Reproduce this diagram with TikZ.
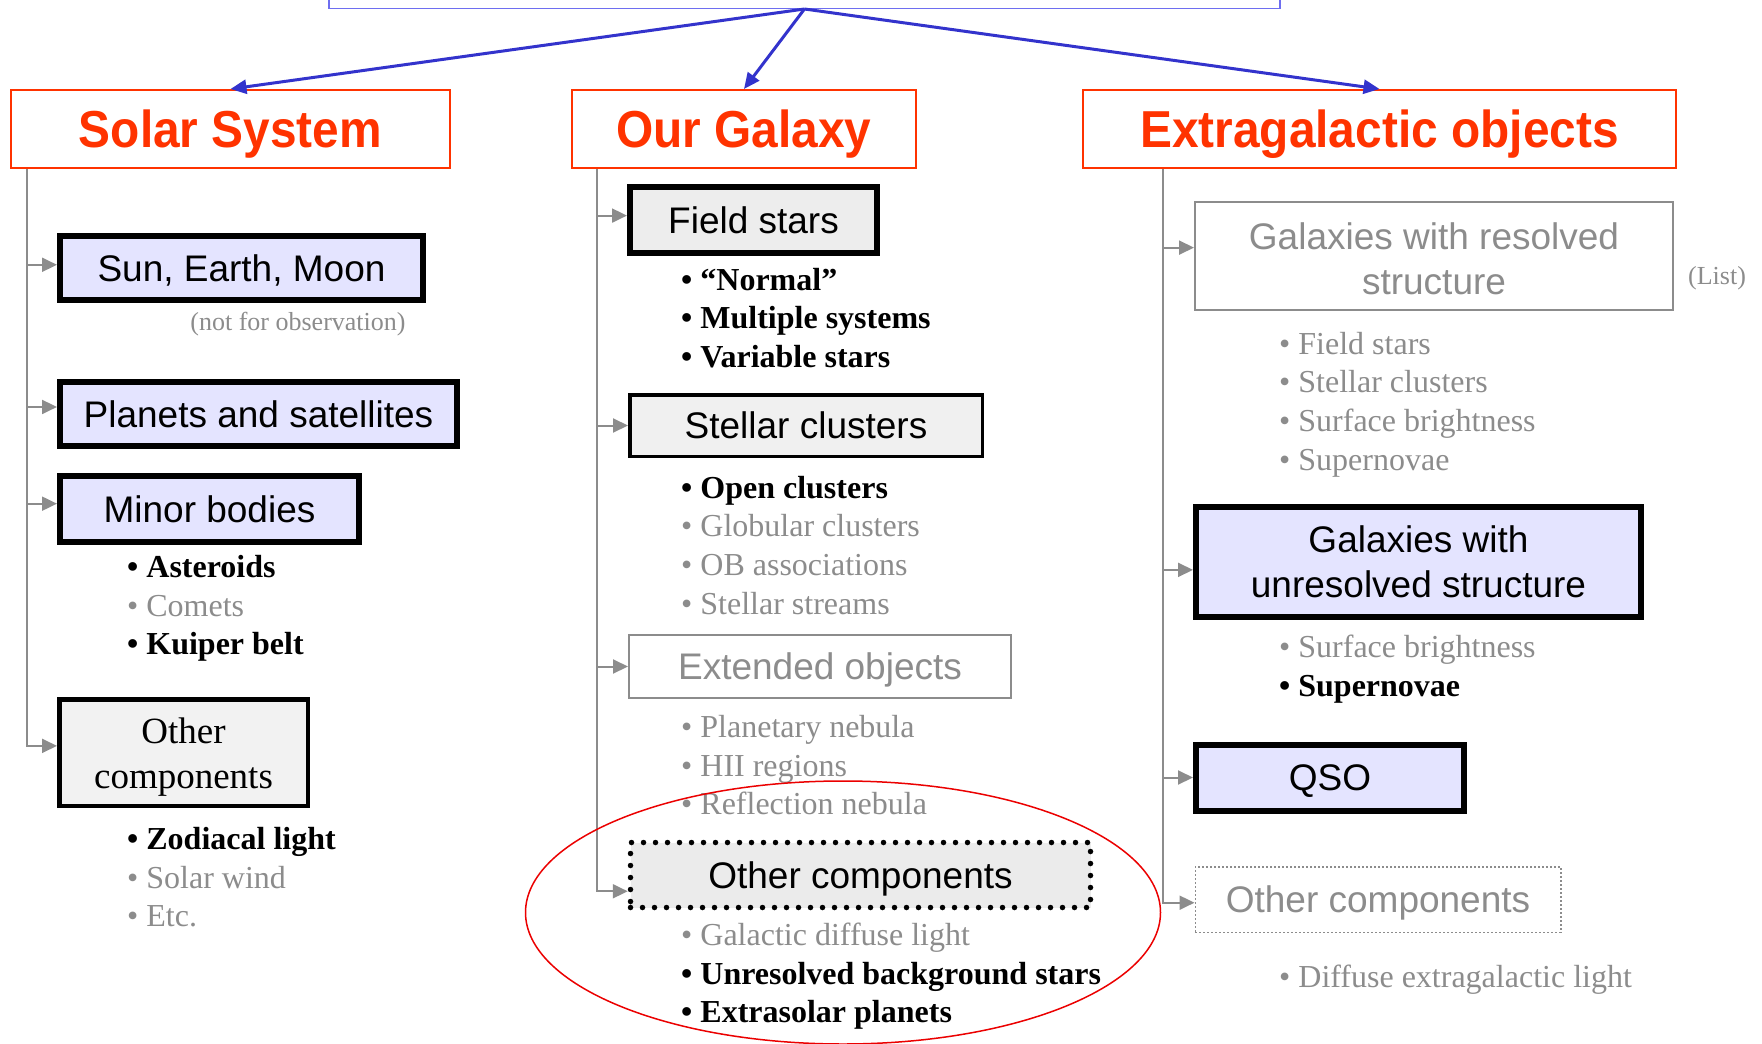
\documentclass[tikz,border=0pt]{standalone}
\usepackage{fontspec}
\setmainfont{Liberation Serif}
\setsansfont{Liberation Sans}
\newfontfamily\headfont[FakeStretch=0.92]{Liberation Sans}
\usetikzlibrary{arrows.meta}
\definecolor{hdrred}{RGB}{255,51,0}
\definecolor{rootblue}{RGB}{110,110,240}
\definecolor{arrowblue}{RGB}{51,51,204}
\definecolor{lav}{RGB}{228,228,255}
\definecolor{faint}{RGB}{140,140,140}
\definecolor{ringred}{RGB}{235,0,0}
\tikzstyle{rootbox} = [rectangle, draw=rootblue, line width=1.5pt]
\tikzstyle{heading} = [rectangle, draw=hdrred, line width=2pt, text=hdrred, minimum height=78pt, inner sep=0pt, text height=45pt, text depth=8pt, font=\headfont\bfseries\fontsize{52}{60}\selectfont]
\tikzstyle{keybox} = [rectangle, draw=black, line width=6pt, fill=lav, inner sep=0pt, align=center, font=\sffamily\fontsize{37}{45}\selectfont]
\tikzstyle{oneline} = [text height=33pt, text depth=6.5pt]
\tikzstyle{greybox} = [keybox, fill=black!7]
\tikzstyle{faintbox} = [keybox, draw=faint, line width=2pt, fill=white, text=faint]
\tikzstyle{dotbox} = [keybox, line width=5.5pt, fill=black!8, line cap=round, dash pattern=on 0pt off 12pt]
\tikzstyle{faintdot} = [faintbox, line width=1.5pt, dash pattern=on 1.5pt off 2.5pt]
\tikzstyle{list} = [inner sep=0pt, anchor=west, font=\fontsize{32}{38.7}\selectfont]
\tikzstyle{note} = [inner sep=0pt, text=faint, font=\fontsize{26}{30}\selectfont]
\tikzstyle{branch} = [draw=arrowblue, line width=3pt, -{Triangle[length=16pt,width=14pt]}]
\tikzstyle{conn} = [draw=faint, line width=2pt, -{Triangle[length=15pt,width=14pt]}]
\newcommand{\hi}[1]{\textbf{• #1}}
\newcommand{\lo}[1]{\textcolor{faint}{• #1}}

\begin{document}
\begin{tikzpicture}[x=1pt,y=-1pt]
        \useasboundingbox (0,0) rectangle (1762,1044);
        \clip (0,0) rectangle (1762,1044);

        \node (root) [rootbox, minimum width=951pt, minimum height=60pt, anchor=south] at (804.5,9) {};

        \node (ss) [heading, minimum width=439pt] at (230.5,129) {Solar System};
        \node (og) [heading, minimum width=344pt] at (744,129) {Our Galaxy};
        \node (eg) [heading, minimum width=593pt] at (1379.5,129) {Extragalactic objects};

        \draw[branch] (root.south) -- (ss.north);
        \draw[branch] (root.south) -- (og.north);
        \draw[branch] (root.south) -- (eg.north);

        % Solar System
        \node (sun) [keybox, oneline, minimum width=363pt, minimum height=64pt] at (241.5,268) {Sun, Earth, Moon};
        \node (sunN) [note] at (298,324.5) {(not for observation)};
        \node (planets) [keybox, oneline, minimum width=397pt, minimum height=64pt] at (258.5,414) {Planets and satellites};
        \node (minor) [keybox, oneline, minimum width=299pt, minimum height=66pt] at (209.5,509) {Minor bodies};
        \node (minorL) [list] at (127,608.5) {\begin{tabular}{@{}l@{}}
            \hi{Asteroids} \\
            \lo{Comets} \\
            \hi{Kuiper belt}
        \end{tabular}};
        \node (otherS) [greybox, line width=4.5pt, fill=black!5, minimum width=248.5pt, minimum height=106.5pt, font=\fontsize{37}{45}\selectfont] at (183.5,752.5) {\rule{0pt}{35pt}Other\\components};
        \node (otherSL) [list] at (127,880.5) {\begin{tabular}{@{}l@{}}
            \hi{Zodiacal light} \\
            \lo{Solar wind} \\
            \lo{Etc.}
        \end{tabular}};

        \coordinate (ssT) at (27,169);
        \draw[conn] (ssT) |- (sun.179.5);
        \draw[conn] (ssT) |- (planets.178.7);
        \draw[conn] (ssT) |- (minor.178.6);
        \draw[conn] (ssT) |- (otherS.177);

        % Our Galaxy
        \node (field) [greybox, oneline, minimum width=247pt, minimum height=66pt] at (753.5,220) {Field stars};
        \node (fieldL) [list] at (681,321) {\begin{tabular}{@{}l@{}}
            \hi{“Normal”} \\
            \hi{Multiple systems} \\
            \hi{Variable stars}
        \end{tabular}};
        \node (stellar) [greybox, oneline, line width=3.5pt, fill=black!6, minimum width=352.5pt, minimum height=61.5pt] at (806,425.5) {Stellar clusters};
        \node (stellarL) [list] at (681,548.5) {\begin{tabular}{@{}l@{}}
            \hi{Open clusters} \\
            \lo{Globular clusters} \\
            \lo{OB associations} \\
            \lo{Stellar streams}
        \end{tabular}};
        \node (extended) [faintbox, oneline, minimum width=382pt, minimum height=63pt] at (820,666.5) {Extended objects};
        \node (extendedL) [list] at (681,768.5) {\begin{tabular}{@{}l@{}}
            \lo{Planetary nebula} \\
            \lo{HII regions} \\
            \lo{Reflection nebula}
        \end{tabular}};
        \node (otherG) [dotbox, oneline, minimum width=460pt, minimum height=65pt] at (860.5,875) {Other components};
        \node (otherGL) [list] at (681,976.5) {\begin{tabular}{@{}l@{}}
            \lo{Galactic diffuse light} \\
            \hi{Unresolved background stars} \\
            \hi{Extrasolar planets}
        \end{tabular}};

        \coordinate (ogT) at (597,169);
        \draw[conn] (ogT) |- (field.178.5);
        \draw[conn] (ogT) |- (stellar.west);
        \draw[conn] (ogT) |- (extended.west);
        \draw[conn] (ogT) |- (otherG.184);

        % Extragalactic objects
        \node (resolved) [faintbox, minimum width=478pt, minimum height=108pt] at (1434,256) {\rule{0pt}{32pt}Galaxies with resolved\\structure};
        \node (resolvedN) [note] at (1717,278) {(List)};
        \node (resolvedL) [list] at (1279,404.5) {\begin{tabular}{@{}l@{}}
            \lo{Field stars} \\
            \lo{Stellar clusters} \\
            \lo{Surface brightness} \\
            \lo{Supernovae}
        \end{tabular}};
        \node (unresolved) [keybox, minimum width=445pt, minimum height=110pt] at (1418.5,562) {Galaxies with\\unresolved structure};
        \node (unresolvedL) [list] at (1279,669.5) {\begin{tabular}{@{}l@{}}
            \lo{Surface brightness} \\
            \hi{Supernovae}
        \end{tabular}};
        \node (qso) [keybox, oneline, minimum width=268pt, minimum height=66pt] at (1330,777.5) {QSO};
        \node (otherX) [faintdot, oneline, minimum width=365.5pt, minimum height=65.5pt] at (1378,899.5) {Other components};
        \node (otherXL) [list] at (1279,980) {\begin{tabular}{@{}l@{}}
            \lo{Diffuse extragalactic light}
        \end{tabular}};

        \coordinate (egT) at (1163,169);
        \draw[conn] (egT) |- (resolved.178);
        \draw[conn] (egT) |- (unresolved.182);
        \draw[conn] (egT) |- (qso.west);
        \draw[conn] (egT) |- (otherX.181.7);

        \draw[ringred, line width=1.5pt] (843,912.5) ellipse [x radius=317.5pt, y radius=131.5pt];

    \end{tikzpicture}
\end{document}
